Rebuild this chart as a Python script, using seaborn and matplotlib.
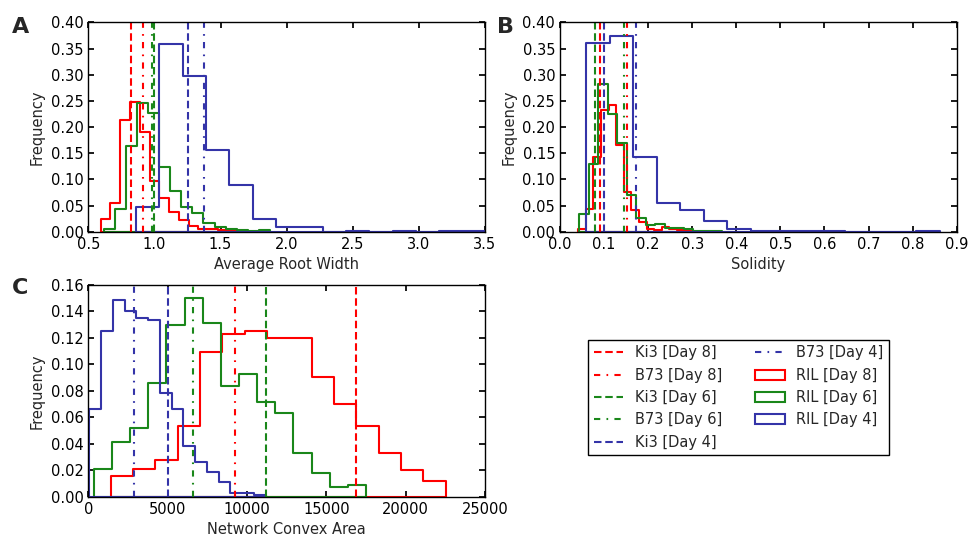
import numpy as np
import pandas as pd
import seaborn as sns
import matplotlib
matplotlib.use("Agg")
import matplotlib.pyplot as plt
import matplotlib.patches as mpatches

# valores (frecuencia relativa de cada bin)
# orden de las series: Day 8 (rojo), Day 6 (verde), Day 4 (azul)

# Panel A - Average Root Width
a_starts = [0.593, 0.618, 0.860]
a_steps = [0.074, 0.0837, 0.1765]
a_day8 = [0.025, 0.055, 0.213, 0.248, 0.191, 0.097, 0.064, 0.037, 0.022, 0.011, 0.005, 0.006, 0.003, 0.002]
a_day6 = [0.0045, 0.043, 0.164, 0.246, 0.227, 0.124, 0.078, 0.048, 0.036, 0.016, 0.0096, 0.006, 0.003, 0.001, 0.003]
a_day4 = [0.0465, 0.358, 0.298, 0.156, 0.089, 0.0236, 0.0096, 0.0096, 0.0, 0.001, 0.0, 0.001, 0.0, 0.001, 0.001]
a_lines = [0.82, 0.911, 0.995, 0.985, 1.252, 1.377]

# Panel B - Solidity
b_starts = [0.0416, 0.044, 0.059]
b_steps = [0.0172, 0.0215, 0.0535]
b_day8 = [0.006, 0.043, 0.143, 0.232, 0.243, 0.166, 0.076, 0.041, 0.019, 0.006, 0.004, 0.0096, 0.006, 0.003, 0.002]
b_day6 = [0.034, 0.13, 0.282, 0.225, 0.17, 0.07, 0.026, 0.013, 0.014, 0.0064, 0.0064, 0.0045, 0.001, 0.002, 0.002]
b_day4 = [0.36, 0.374, 0.143, 0.055, 0.041, 0.021, 0.0045, 0.002, 0.001, 0.001, 0.001, 0.0, 0.0, 0.0, 0.001]
b_lines = [0.0907, 0.1527, 0.0794, 0.1459, 0.1006, 0.1724]

# Panel C - Network Convex Area
c_starts = [1408, 357, 60]
c_steps = [1407, 1143, 741]
c_day8 = [0.0156, 0.0207, 0.0277, 0.0534, 0.1096, 0.123, 0.125, 0.1197, 0.1197, 0.0907, 0.0698, 0.0534, 0.0328, 0.0202, 0.0121]
c_day6 = [0.0207, 0.041, 0.052, 0.086, 0.130, 0.150, 0.1315, 0.084, 0.0927, 0.0718, 0.0635, 0.0328, 0.018, 0.007, 0.0086]
c_day4 = [0.066, 0.125, 0.149, 0.140, 0.135, 0.1335, 0.078, 0.066, 0.038, 0.0265, 0.019, 0.011, 0.003, 0.0025, 0.0013]
c_lines = [16870, 9244, 11176, 6618, 5000, 2878]

line_labels = ["Ki3 [Day 8]", "B73 [Day 8]", "Ki3 [Day 6]", "B73 [Day 6]", "Ki3 [Day 4]", "B73 [Day 4]"]
ril_labels = ["RIL [Day 8]", "RIL [Day 6]", "RIL [Day 4]"]

colores = ["#ff0000", "#1a871a", "#3434a8"]
estilos = [(0, (3.6, 1.8)), (0, (3, 3, 0.8, 3))]

sns.set_theme(style="ticks", rc={
    "xtick.direction": "in", "ytick.direction": "in",
    "xtick.top": True, "ytick.right": True,
    "xtick.major.size": 4, "ytick.major.size": 4,
    "axes.edgecolor": "black", "axes.linewidth": 1.0,
    "xtick.color": "black", "ytick.color": "black",
    "font.size": 10.5, "axes.labelsize": 10.5,
    "xtick.labelsize": 10.5, "ytick.labelsize": 10.5,
})
plt.rcParams["font.family"] = ["DejaVu Sans"]


def dibujar(ax, starts, steps, series, lines):
    # histograma tipo "step": contorno sin relleno que baja hasta cero en los extremos
    for start, step, heights, color in zip(starts, steps, series, colores):
        edges = start + step * np.arange(len(heights) + 1)
        df = pd.DataFrame({"x": edges[:-1] + step / 2, "w": heights})
        sns.histplot(data=df, x="x", weights="w", bins=list(edges), element="step",
                     fill=True, color=color, facecolor="none", edgecolor=color,
                     linewidth=1.5, ax=ax)
    handles = []
    for i, x in enumerate(lines):
        h = ax.axvline(x, color=colores[i // 2], linestyle=estilos[i % 2],
                       linewidth=1.5, label=line_labels[i], zorder=3)
        handles.append(h)
    ax.set_ylabel("Frequency")
    return handles


fig = plt.figure(figsize=(9.68, 5.38), dpi=100)
axA = fig.add_axes([0.0912, 0.5693, 0.4098, 0.3892])
axB = fig.add_axes([0.5785, 0.5693, 0.4098, 0.3892])
axC = fig.add_axes([0.0912, 0.0768, 0.4098, 0.3935])

dibujar(axA, a_starts, a_steps, [a_day8, a_day6, a_day4], a_lines)
axA.set_xlim(0.5, 3.5)
axA.set_ylim(0, 0.40)
axA.set_xticks(np.arange(0.5, 3.51, 0.5))
axA.set_yticks(np.arange(0, 0.401, 0.05))
axA.set_xlabel("Average Root Width")

dibujar(axB, b_starts, b_steps, [b_day8, b_day6, b_day4], b_lines)
axB.set_xlim(0, 0.9)
axB.set_ylim(0, 0.40)
axB.set_xticks(np.arange(0, 0.91, 0.1))
axB.set_yticks(np.arange(0, 0.401, 0.05))
axB.set_xlabel("Solidity")

line_handles = dibujar(axC, c_starts, c_steps, [c_day8, c_day6, c_day4], c_lines)
axC.set_xlim(0, 25000)
axC.set_ylim(0, 0.16)
axC.set_xticks(np.arange(0, 25001, 5000))
axC.set_yticks(np.arange(0, 0.161, 0.02))
axC.set_xlabel("Network Convex Area")

for ax in [axA, axB]:
    ax.xaxis.set_major_formatter(plt.FormatStrFormatter("%.1f"))
    ax.yaxis.set_major_formatter(plt.FormatStrFormatter("%.2f"))
axC.yaxis.set_major_formatter(plt.FormatStrFormatter("%.2f"))
for ax in [axA, axB, axC]:
    for s in ax.spines.values():
        s.set_visible(True)
        s.set_zorder(4)

ril_handles = [mpatches.Patch(facecolor="none", edgecolor=c, linewidth=1.5, label=l)
               for c, l in zip(colores, ril_labels)]
leg = fig.legend(handles=line_handles + ril_handles, ncol=2, loc="center",
                 bbox_to_anchor=(0.763, 0.261), fancybox=False, framealpha=1,
                 edgecolor="black", fontsize=10.5, columnspacing=2.3)
leg.get_frame().set_linewidth(1.0)

fig.text(0.012, 0.950, "A", fontsize=16, fontweight="bold", va="center")
fig.text(0.513, 0.950, "B", fontsize=16, fontweight="bold", va="center")
fig.text(0.012, 0.465, "C", fontsize=16, fontweight="bold", va="center")

fig.savefig("out.png", dpi=100)
